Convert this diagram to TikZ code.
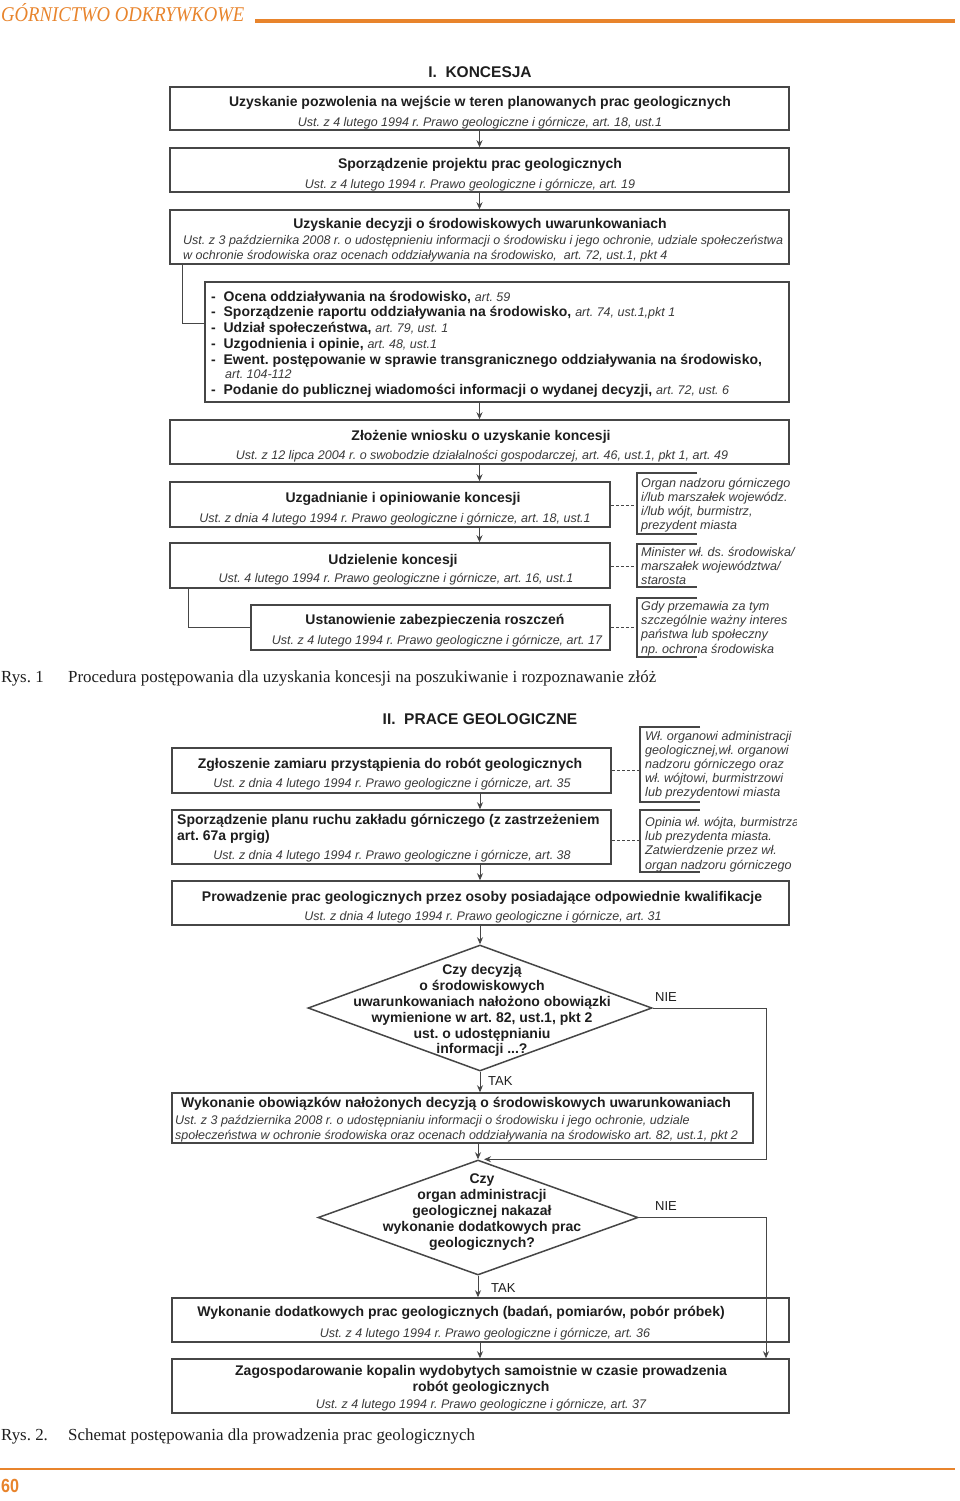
\documentclass[tikz,border=0pt]{standalone}
\usepackage{fontspec}
\setmainfont{Liberation Sans}
\newfontfamily\serif{Liberation Serif}
\usetikzlibrary{shapes.geometric,arrows.meta}
\frenchspacing
\definecolor{orng}{HTML}{E8842C}
\definecolor{frame}{HTML}{464646}
\definecolor{ink}{HTML}{1E1E1E}
\definecolor{cite}{HTML}{3A3A3A}
\newcommand\ci{\mdseries\itshape\fontsize{12.5}{14}\selectfont\color{cite}}
\tikzset{
 box/.style={draw=frame, line width=1.5pt, inner sep=0pt, fill=white},
 dia/.style={diamond, draw=frame, line width=1.5pt, inner sep=0pt, fill=white},
 hd/.style={font=\bfseries\fontsize{14}{16}\selectfont, text=ink, inner sep=0pt, anchor=mid, yshift=-2.5pt},
 hdl/.style={hd, anchor=mid west},
 ct/.style={font=\itshape\fontsize{12.5}{14}\selectfont, text=cite, inner sep=0pt, anchor=mid, yshift=-2pt},
 ctl/.style={ct, anchor=mid west},
 sn/.style={font=\itshape\fontsize{12.6}{14}\selectfont, text=cite, inner sep=0pt, anchor=mid west, yshift=-2.5pt},
 ttl/.style={font=\bfseries\fontsize{15.5}{18}\selectfont, text=ink, inner sep=0pt, anchor=mid, yshift=-2.5pt},
 lab/.style={font=\fontsize{13}{14}\selectfont, text=ink, inner sep=0pt, anchor=mid west, yshift=-2.5pt},
 captxt/.style={font=\serif\fontsize{16.9}{18}\selectfont, text=ink, inner sep=0pt, anchor=mid west, yshift=-2.5pt},
 arr/.style={draw=frame, line width=0.9pt, -{Stealth[length=7pt,width=6pt]}},
 ln/.style={draw=frame, line width=0.9pt},
 dsh/.style={draw=frame, line width=0.9pt, dash pattern=on 3pt off 2pt},
 brk/.style={draw=frame, line width=1.2pt},
}
\newcommand\bx[5]{\node[box,minimum width={#4-#2},minimum height={#5-#3}] (#1) at ({(#2+#4)/2},{(#3+#5)/2}) {};}
\newcommand\brk[3]{\draw[brk] (#1+60,#2) -- (#1,#2) -- (#1,#3) -- (#1+60,#3);}
\begin{document}
\begin{tikzpicture}[x=1pt,y=-1pt]
\useasboundingbox (0,0) rectangle (960,1501);
% header
\node[font=\serif\itshape\fontsize{21}{22}\selectfont, text=orng, inner sep=0pt, anchor=mid west, yshift=-2.5pt] (hdr) at (1,16) {\scalebox{0.89}[1]{GÓRNICTWO ODKRYWKOWE}};
\draw[orng, line width=3.5pt] (255,21) -- (955,21);
\draw[orng, line width=2pt] (0,1469) -- (955,1469);
\node[font=\bfseries\fontsize{19}{20}\selectfont, text=orng, inner sep=0pt, anchor=mid west, yshift=-2.5pt] (pg) at (1,1487) {\scalebox{0.85}[1]{60}};

% ===== I. KONCESJA =====
\node[ttl] (t1) at (480,72) {I.\ \ KONCESJA};
\bx{b1}{170}{87}{789}{130}
\node[hd] (b1a) at (480,101) {Uzyskanie pozwolenia na wejście w teren planowanych prac geologicznych};
\node[ct] (b1b) at (480,122) {Ust. z 4 lutego 1994 r. Prawo geologiczne i górnicze, art. 18, ust.1};

\bx{b2}{170}{148}{789}{192}
\node[hd] (b2a) at (480,163) {Sporządzenie projektu prac geologicznych};
\node[ct] (b2b) at (470,184) {Ust. z 4 lutego 1994 r. Prawo geologiczne i górnicze, art. 19};

\bx{b3}{170}{210}{789}{264}
\node[hd] (b3a) at (480,223) {Uzyskanie decyzji o środowiskowych uwarunkowaniach};
\node[ctl] (b3b) at (183,240) {Ust. z 3 października 2008 r. o udostępnieniu informacji o środowisku i jego ochronie, udziale społeczeństwa};
\node[ctl] (b3c) at (183,255) {w ochronie środowiska oraz ocenach oddziaływania na środowisko,\ \ art. 72, ust.1, pkt 4};

\bx{b4}{205}{282}{789}{402}
\node[hdl] (l1) at (211,296) {-\ \ Ocena oddziaływania na środowisko, {\ci art. 59}};
\node[hdl] (l2) at (211,311) {-\ \ Sporządzenie raportu oddziaływania na środowisko, {\ci art. 74, ust.1,pkt 1}};
\node[hdl] (l3) at (211,327) {-\ \ Udział społeczeństwa, {\ci art. 79, ust. 1}};
\node[hdl] (l4) at (211,343) {-\ \ Uzgodnienia i opinie, {\ci art. 48, ust.1}};
\node[hdl] (l5) at (211,359) {-\ \ Ewent. postępowanie w sprawie transgranicznego oddziaływania na środowisko,};
\node[ctl] (l5b) at (225,374) {art. 104-112};
\node[hdl] (l6) at (211,389) {-\ \ Podanie do publicznej wiadomości informacji o wydanej decyzji, {\ci art. 72, ust. 6}};

\bx{b5}{170}{420}{789}{464}
\node[hd] (b5a) at (481,435) {Złożenie wniosku o uzyskanie koncesji};
\node[ct] (b5b) at (482,455) {Ust. z 12 lipca 2004 r. o swobodzie działalności gospodarczej, art. 46, ust.1, pkt 1, art. 49};

\bx{b6}{170}{482}{610}{527}
\node[hd] (b6a) at (403,497) {Uzgadnianie i opiniowanie koncesji};
\node[ct] (b6b) at (395,518) {Ust. z dnia 4 lutego 1994 r. Prawo geologiczne i górnicze, art. 18, ust.1};

\bx{b7}{170}{543}{610}{588}
\node[hd] (b7a) at (393,559) {Udzielenie koncesji};
\node[ct] (b7b) at (396,578) {Ust. 4 lutego 1994 r. Prawo geologiczne i górnicze, art. 16, ust.1};

\bx{b8}{251}{605}{610}{650}
\node[hd] (b8a) at (435,619) {Ustanowienie zabezpieczenia roszczeń};
\node[ct] (b8b) at (437,640) {Ust. z 4 lutego 1994 r. Prawo geologiczne i górnicze, art. 17};

% side notes I
\brk{637}{473}{534}
\coordinate (s1) at (637,505);
\node[sn] (s1a) at (641,482) {Organ nadzoru górniczego};
\node[sn] (s1b) at (641,496) {i/lub marszałek wojewódz.};
\node[sn] (s1c) at (641,510) {i/lub wójt, burmistrz,};
\node[sn] (s1d) at (641,524) {prezydent miasta};

\brk{637}{544}{587}
\coordinate (s2) at (637,566);
\node[sn] (s2a) at (641,551) {Minister wł. ds. środowiska/};
\node[sn] (s2b) at (641,565) {marszałek województwa/};
\node[sn] (s2c) at (641,579) {starosta};

\brk{637}{598}{657}
\coordinate (s3) at (637,627);
\node[sn] (s3a) at (641,605) {Gdy przemawia za tym};
\node[sn] (s3b) at (641,619) {szczególnie ważny interes};
\node[sn] (s3c) at (641,633) {państwa lub społeczny};
\node[sn] (s3d) at (641,648) {np. ochrona środowiska};

% connectors I
\coordinate (c3y) at (0,323);
\draw[arr] (b1.south) -- (b2.north);
\draw[arr] (b2.south) -- (b3.north);
\draw[ln] (b3.south west) ++(13,0) coordinate (c3) -- (c3 |- c3y) -- (b4.west |- c3y);
\draw[arr] (b4.south -| b5.north) -- (b5.north);
\draw[arr] (b5.south) -- (b5.south |- b6.north);
\draw[arr] (b5.south |- b6.south) -- (b5.south |- b7.north);
\draw[ln] (b7.south west) ++(19,0) coordinate (c7) -- (c7 |- b8.west) -- (b8.west);
\draw[dsh] (b6.east |- s1) -- (s1);
\draw[dsh] (b7.east |- s2) -- (s2);
\draw[dsh] (b8.east |- s3) -- (s3);

\node[captxt] (r1) at (1,677) {Rys. 1};
\node[captxt] (r1t) at (68,677) {Procedura postępowania dla uzyskania koncesji na poszukiwanie i rozpoznawanie złóż};

% ===== II. PRACE GEOLOGICZNE =====
\node[ttl] (t2) at (480,719) {II.\ \ PRACE GEOLOGICZNE};
\bx{b9}{172}{748}{611}{793}
\node[hd] (b9a) at (390,763) {Zgłoszenie zamiaru przystąpienia do robót geologicznych};
\node[ct] (b9b) at (392,783) {Ust. z dnia 4 lutego 1994 r. Prawo geologiczne i górnicze, art. 35};

\bx{b10}{172}{810}{611}{864}
\node[hdl] (b10a) at (177,819) {Sporządzenie planu ruchu zakładu górniczego (z zastrzeżeniem};
\node[hdl] (b10b) at (177,835) {art. 67a prgig)};
\node[ct] (b10c) at (392,855) {Ust. z dnia 4 lutego 1994 r. Prawo geologiczne i górnicze, art. 38};

\brk{640}{727}{802}
\coordinate (s4) at (640,770);
\node[sn] (s4a) at (645,735) {Wł. organowi administracji};
\node[sn] (s4b) at (645,749) {geologicznej,wł. organowi};
\node[sn] (s4c) at (645,763) {nadzoru górniczego oraz};
\node[sn] (s4d) at (645,777) {wł. wójtowi, burmistrzowi};
\node[sn] (s4e) at (645,791) {lub prezydentowi miasta};

\brk{640}{810}{872}
\coordinate (s5) at (640,840);
\begin{scope}
\clip (630,800) rectangle (796,880);
\node[sn] (s5a) at (645,821) {Opinia wł. wójta, burmistrza};
\end{scope}
\node[sn] (s5b) at (645,835) {lub prezydenta miasta.};
\node[sn] (s5c) at (645,849) {Zatwierdzenie przez wł.};
\node[sn] (s5d) at (645,864) {organ nadzoru górniczego};

\bx{b11}{172}{881}{789}{925}
\node[hd] (b11a) at (482,896) {Prowadzenie prac geologicznych przez osoby posiadające odpowiednie kwalifikacje};
\node[ct] (b11b) at (483,916) {Ust. z dnia 4 lutego 1994 r. Prawo geologiczne i górnicze, art. 31};

\node[dia, minimum width=344, minimum height=126] (d1) at (480,1008) {};
\node[hd] (d1a) at (482,969) {Czy decyzją};
\node[hd] (d1b) at (482,985) {o środowiskowych};
\node[hd] (d1c) at (482,1001) {uwarunkowaniach nałożono obowiązki};
\node[hd] (d1d) at (482,1017) {wymienione w art. 82, ust.1, pkt 2};
\node[hd] (d1e) at (482,1033) {ust. o udostępnianiu};
\node[hd] (d1f) at (482,1048) {informacji ...?};
\node[lab] (n1) at (655,996) {NIE};
\node[lab] (k1) at (488,1080) {TAK};

\bx{b12}{172}{1093}{753}{1143}
\node[hd] (b12a) at (456,1102) {Wykonanie obowiązków nałożonych decyzją o środowiskowych uwarunkowaniach};
\node[ctl] (b12b) at (175,1120) {Ust. z 3 października 2008 r. o udostępnianiu informacji o środowisku i jego ochronie, udziale};
\node[ctl] (b12c) at (175,1135) {społeczeństwa w ochronie środowiska oraz ocenach oddziaływania na środowisko art. 82, ust.1, pkt 2};

\node[dia, minimum width=320, minimum height=115] (d2) at (478,1217.5) {};
\node[hd] (d2a) at (482,1178) {Czy};
\node[hd] (d2b) at (482,1194) {organ administracji};
\node[hd] (d2c) at (482,1210) {geologicznej nakazał};
\node[hd] (d2d) at (482,1226) {wykonanie dodatkowych prac};
\node[hd] (d2e) at (482,1242) {geologicznych?};
\node[lab] (n2) at (655,1205) {NIE};
\node[lab] (k2) at (491,1287) {TAK};

\bx{b13}{172}{1298}{789}{1342}
\node[hd] (b13a) at (461,1311) {Wykonanie dodatkowych prac geologicznych (badań, pomiarów, pobór próbek)};
\node[ct] (b13b) at (485,1333) {Ust. z 4 lutego 1994 r. Prawo geologiczne i górnicze, art. 36};

\bx{b14}{172}{1359}{789}{1413}
\node[hd] (b14a) at (481,1370) {Zagospodarowanie kopalin wydobytych samoistnie w czasie prowadzenia};
\node[hd] (b14b) at (481,1386) {robót geologicznych};
\node[ct] (b14c) at (481,1404) {Ust. z 4 lutego 1994 r. Prawo geologiczne i górnicze, art. 37};

\coordinate (rt) at (766,0);
% connectors II
\draw[arr] (b9.south -| 480,0) -- (b10.north -| 480,0);
\draw[arr] (b10.south -| 480,0) -- (b11.north -| 480,0);
\draw[arr] (b11.south -| d1.north) -- (d1.north);
\draw[arr] (d1.south) -- (b12.north -| d1.south);
\draw[arr] (b12.south -| d2.north) -- (d2.north);
\draw[arr] (d1.east) -- (d1.east -| rt) -- (rt |- d2.north) -- ([xshift=6pt]d2.north);
\draw[arr] (d2.south) -- (b13.north -| d2.south);
\draw[arr] (b13.south -| 480,0) -- (b14.north -| 480,0);
\draw[arr] (d2.east) -- (d2.east -| rt) -- (rt |- b14.north);
\draw[dsh] (b9.east) -- (b9.east -| s4);
\draw[dsh] (b10.east |- s5) -- (s5);

\node[captxt] (r2) at (1,1435) {Rys. 2.};
\node[captxt] (r2t) at (68,1435) {Schemat postępowania dla prowadzenia prac geologicznych};
\end{tikzpicture}
\end{document}
